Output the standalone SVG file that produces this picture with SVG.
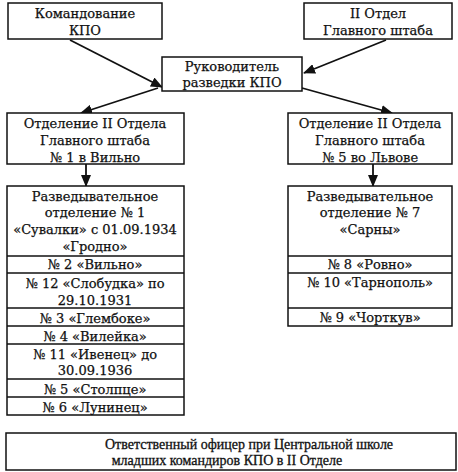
<svg xmlns="http://www.w3.org/2000/svg" width="458" height="472" viewBox="0 0 458 472">
<defs>
<marker id="arr" markerWidth="12" markerHeight="10" refX="11" refY="5" orient="auto" markerUnits="userSpaceOnUse">
<path d="M0,0 L12,5 L0,10 Z" fill="#111"/>
</marker>
<style>
.box{fill:#fff;stroke:#111;stroke-width:1.5}
.div{stroke:#111;stroke-width:1.3}
text{font-family:"DejaVu Serif","Liberation Serif",serif;font-size:13px;fill:#111;stroke:#111;stroke-width:0.25;text-anchor:middle}
text.ls{font-family:"Liberation Serif","DejaVu Serif",serif;font-size:14px;stroke-width:0.3}
.con{stroke:#111;stroke-width:1.8;fill:none}
</style>
</defs>
<rect width="458" height="472" fill="#fff"/>
<g id="connectors">
<line class="con" x1="70" y1="40" x2="162" y2="87" marker-end="url(#arr)"/>
<line class="con" x1="386" y1="40" x2="304" y2="73" marker-end="url(#arr)"/>
<line class="con" x1="158" y1="88" x2="81" y2="113" marker-end="url(#arr)"/>
<line class="con" x1="302" y1="88" x2="392" y2="113" marker-end="url(#arr)"/>
<line class="con" x1="86" y1="164" x2="86" y2="186" marker-end="url(#arr)"/>
<line class="con" x1="373" y1="164" x2="373" y2="186" marker-end="url(#arr)"/>
</g>
<g id="kpo-command">
<rect class="box" x="8" y="3" width="154" height="36"/>
<text x="85" y="18">Командование</text>
<text x="85" y="35">КПО</text>
</g>
<g id="ii-department">
<rect class="box" x="304" y="3" width="148" height="36"/>
<text x="378" y="18">II Отдел</text>
<text x="378" y="35">Главного штаба</text>
</g>
<g id="intel-head">
<rect class="box" x="162" y="57" width="140" height="34"/>
<text x="232" y="71">Руководитель</text>
<text x="232" y="87">разведки КПО</text>
</g>
<g id="section-1">
<rect class="box" x="7" y="113" width="177" height="51"/>
<text x="95" y="128">Отделение II Отдела</text>
<text x="95" y="145">Главного штаба</text>
<text x="95" y="162">№ 1 в Вильно</text>
</g>
<g id="section-5">
<rect class="box" x="288" y="113" width="164" height="51"/>
<text x="370" y="128">Отделение II Отдела</text>
<text x="370" y="145">Главного штаба</text>
<text x="370" y="162">№ 5 во Львове</text>
</g>
<g id="list-left">
<rect class="box" x="7" y="186" width="177" height="229"/>
<line class="div" x1="7" y1="256" x2="184" y2="256"/>
<line class="div" x1="7" y1="273" x2="184" y2="273"/>
<line class="div" x1="7" y1="308" x2="184" y2="308"/>
<line class="div" x1="7" y1="326" x2="184" y2="326"/>
<line class="div" x1="7" y1="344" x2="184" y2="344"/>
<line class="div" x1="7" y1="379" x2="184" y2="379"/>
<line class="div" x1="7" y1="397" x2="184" y2="397"/>
<text x="95" y="201">Разведывательное</text>
<text x="95" y="217">отделение № 1</text>
<text x="95" y="234">«Сувалки» с 01.09.1934</text>
<text x="95" y="251">«Гродно»</text>
<text x="95" y="269">№ 2 «Вильно»</text>
<text x="95" y="288">№ 12 «Слобудка» по</text>
<text x="95" y="305">29.10.1931</text>
<text x="95" y="323">№ 3 «Глембоке»</text>
<text x="95" y="341">№ 4 «Вилейка»</text>
<text x="95" y="359">№ 11 «Ивенец» до</text>
<text x="95" y="375">30.09.1936</text>
<text x="95" y="394">№ 5 «Столпце»</text>
<text x="95" y="412">№ 6 «Лунинец»</text>
</g>
<g id="list-right">
<rect class="box" x="288" y="186" width="164" height="140"/>
<line class="div" x1="288" y1="256" x2="452" y2="256"/>
<line class="div" x1="288" y1="273" x2="452" y2="273"/>
<line class="div" x1="288" y1="308" x2="452" y2="308"/>
<text x="370" y="201">Разведывательное</text>
<text x="370" y="217">отделение № 7</text>
<text x="370" y="234">«Сарны»</text>
<text x="370" y="269">№ 8 «Ровно»</text>
<text x="370" y="287">№ 10 «Тарнополь»</text>
<text x="370" y="322">№ 9 «Чорткув»</text>
</g>
<g id="school-officer">
<rect class="box" x="6" y="433" width="450" height="37"/>
<text class="ls" x="249" y="449">Ответственный офицер при Центральной школе</text>
<text class="ls" x="227" y="465">младших командиров КПО в II Отделе</text>
</g>
</svg>
